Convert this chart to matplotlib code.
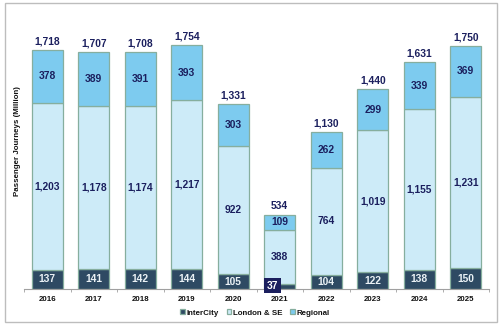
import matplotlib
matplotlib.use("Agg")
import matplotlib.pyplot as plt
from matplotlib.patches import Rectangle

years = ["2016", "2017", "2018", "2019", "2020", "2021", "2022", "2023", "2024", "2025"]
intercity = [137, 141, 142, 144, 105, 37, 104, 122, 138, 150]
london_se = [1203, 1178, 1174, 1217, 922, 388, 764, 1019, 1155, 1231]
regional = [378, 389, 391, 393, 303, 109, 262, 299, 339, 369]
totals = [1718, 1707, 1708, 1754, 1331, 534, 1130, 1440, 1631, 1750]

c_ic = "#2E4A63"
c_ls = "#CDEBF8"
c_rg = "#7DCBEF"
edge = "#86AE9E"
txt = "#1B1F5E"

plt.rcParams['font.family'] = ['Liberation Sans', 'DejaVu Sans']

fig = plt.figure(figsize=(5.0, 3.31), dpi=100)
fig.patches.append(Rectangle((5/500, 1-322/331), 492/500, 319/331, transform=fig.transFigure,
                             fill=False, edgecolor="#BDBDBD", linewidth=1.0))
ax = fig.add_axes([24/500, 1-289/331, 465/500, 278/331])

x = list(range(len(years)))
w = 0.67
ax.bar(x, intercity, w, color=c_ic, edgecolor=edge, linewidth=0.9, label="InterCity")
ax.bar(x, london_se, w, bottom=intercity, color=c_ls, edgecolor=edge, linewidth=0.9, label="London & SE")
bot2 = [a + b for a, b in zip(intercity, london_se)]
ax.bar(x, regional, w, bottom=bot2, color=c_rg, edgecolor=edge, linewidth=0.9, label="Regional")

fs = 7.4
for i in x:
    if intercity[i] < 60:
        ax.text(i - 0.16, intercity[i] / 2 + 4, f"{intercity[i]:,}", ha="center", va="center",
                fontsize=fs, fontweight="bold", color="white", zorder=5,
                bbox=dict(boxstyle="square,pad=0.25", fc=txt, ec="none"))
    else:
        ax.text(i, intercity[i] / 2, f"{intercity[i]:,}", ha="center", va="center",
                fontsize=fs, fontweight="bold", color="#EAF1F5")
    ax.text(i, intercity[i] + london_se[i] / 2, f"{london_se[i]:,}", ha="center", va="center",
            fontsize=fs, fontweight="bold", color=txt)
    ax.text(i, bot2[i] + regional[i] / 2, f"{regional[i]:,}", ha="center", va="center",
            fontsize=fs, fontweight="bold", color=txt)
    ax.text(i, totals[i] + 25, f"{totals[i]:,}", ha="center", va="bottom",
            fontsize=fs, fontweight="bold", color=txt)

ax.set_xlim(-0.5, len(years) - 0.5)
ax.set_ylim(0, 2000)
ax.set_yticks([])
for s in ["top", "right", "left"]:
    ax.spines[s].set_visible(False)
ax.spines["bottom"].set_color("#A0A0A0")
ax.spines["bottom"].set_linewidth(0.8)
ax.set_xticks(x)
ax.set_xticklabels(years, fontsize=5.7, fontweight="bold", color="#111111")
ax.tick_params(axis="x", length=0, pad=5)
ax.set_xticks([i + 0.5 for i in range(-1, len(years))], minor=True)
ax.tick_params(axis="x", which="minor", length=2.5, color="#A0A0A0", width=0.6)

fig.text(18/500, 1-141/331, "Passenger Journeys (Million)", rotation=90, ha="center", va="center",
         fontsize=5.7, fontweight="bold", color="#111111")

leg = fig.legend(loc="center", bbox_to_anchor=(255/500, 1-313/331), ncol=3, frameon=False,
                 handlelength=0.6, handleheight=0.6, handletextpad=0.2,
                 columnspacing=1.0, prop=dict(weight="bold", size=5.7))
for t in leg.get_texts():
    t.set_color("#111111")

fig.savefig("out.png", dpi=100)
